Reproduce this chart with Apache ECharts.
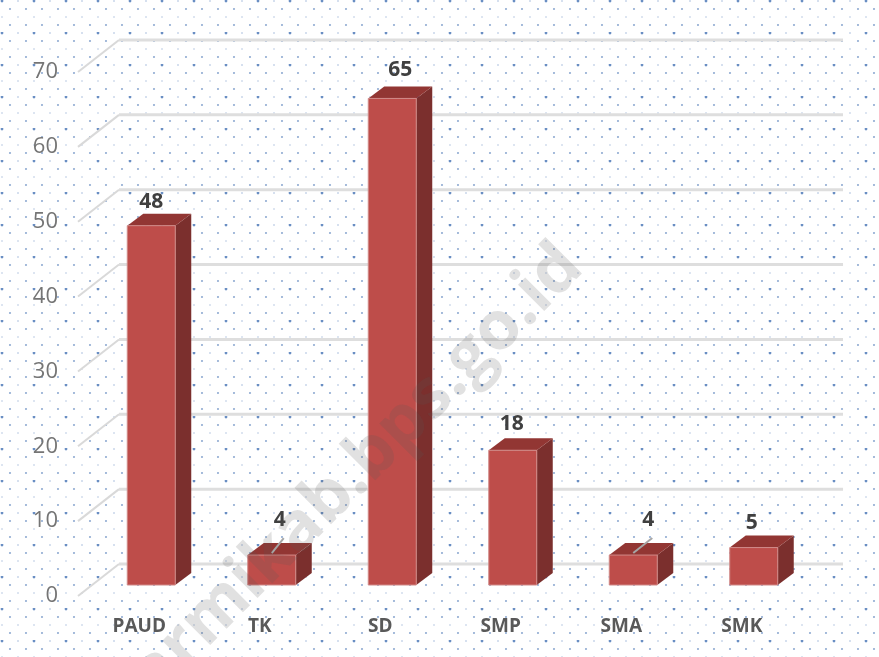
<!DOCTYPE html>
<html>
<head>
<meta charset="utf-8">
<title>Chart</title>
<script src="https://cdn.jsdelivr.net/npm/echarts@6/dist/echarts.min.js"></script>
<style>
  html, body { margin: 0; padding: 0; background: #fff; }
  #box { width: 879px; height: 657px; }
</style>
</head>
<body>
<div id="box"></div>
<script>
var categories = ['PAUD', 'TK', 'SD', 'SMP', 'SMA', 'SMK'];
var values = [48, 4, 65, 18, 4, 5];
var yTicks = [0, 10, 20, 30, 40, 50, 60, 70];

// label nudges, the original has hand-moved data labels
var labelDx = [0, 8, 8, -1, 15, -2];
var labelDy = [24, 35, 28, 26, 35, 25];
var leader = [false, true, false, false, true, false];

var fontName = '"Open Sans", "Noto Sans", sans-serif';

// dotted paper background, tile of 32 x 32
function dotTile() {
  var c = document.createElement('canvas');
  c.width = 32;
  c.height = 32;
  var ctx = c.getContext('2d');
  ctx.fillStyle = '#ffffff';
  ctx.fillRect(0, 0, 32, 32);
  function dot(x, y, r, a) {
    ctx.fillStyle = 'rgba(68,114,180,' + a + ')';
    ctx.beginPath();
    ctx.arc(x, y, r, 0, Math.PI * 2);
    ctx.fill();
  }
  dot(10, 9, 1.05, 0.6);
  dot(26, 9, 1.05, 0.6);
  dot(2, 17, 0.7, 0.5);
  dot(18, 17, 0.7, 0.5);
  dot(10, 25, 1.05, 0.6);
  dot(26, 25, 1.05, 0.6);
  dot(2, 1, 1.4, 0.8);
  dot(18, 1, 0.7, 0.6);
  return c;
}

var chart = echarts.init(document.getElementById('box'));

// back wall and side wall lines
function renderWall(params, api) {
  var p = api.coord([0, api.value(0)]);
  var sys = params.coordSys;
  var left = sys.x;
  var right = sys.x + sys.width;
  return {
    type: 'group',
    children: [{
      type: 'polyline',
      shape: { points: [[left - 1, p[1]], [left + 40, p[1] - 32]] },
      style: { fill: null, stroke: '#d9d9d9', lineWidth: 2 }
    }, {
      type: 'polyline',
      shape: { points: [[left + 40, p[1] - 32], [right + 41, p[1] - 32]] },
      style: { fill: null, stroke: '#dedede', lineWidth: 3 }
    }]
  };
}

function renderBar(params, api) {
  var i = api.value(0);
  var top = api.coord([i, api.value(1)]);
  var base = api.coord([i, 0]);
  var w = 48;
  var x0 = top[0] + 12 - w / 2;
  var x1 = x0 + w;
  var yt = top[1] - 11;
  var yb = base[1] - 11;
  var dx = 16;
  var dy = 12;
  var kids = [{
    type: 'polygon',
    shape: { points: [[x1, yt], [x1 + dx, yt - dy], [x1 + dx, yb - dy], [x1, yb]] },
    style: { fill: '#7b2f2d' }
  }, {
    type: 'polygon',
    shape: { points: [[x0, yt], [x0 + dx, yt - dy], [x1 + dx, yt - dy], [x1, yt]] },
    style: { fill: '#923633' }
  }, {
    type: 'rect',
    shape: { x: x0, y: yt, width: w, height: yb - yt },
    style: { fill: '#be4d4a', stroke: '#d08a88', lineWidth: 1 }
  }];
  var cx = x0 + w / 2;
  if (leader[i]) {
    kids.push({
      type: 'line',
      shape: { x1: cx, y1: yt - 2, x2: cx + labelDx[i] + 4, y2: yt - 17 },
      style: { stroke: '#a6a6a6', lineWidth: 2 }
    });
  }
  kids.push({
    type: 'text',
    style: {
      text: String(api.value(1)),
      x: cx + labelDx[i],
      y: yt - labelDy[i],
      align: 'center',
      verticalAlign: 'middle',
      fill: '#404040',
      font: 'bold 21px ' + fontName
    }
  });
  return { type: 'group', children: kids };
}

var option = {
  backgroundColor: { image: dotTile(), repeat: 'repeat' },
  animation: false,
  grid: { left: 79, right: 77, top: 72, bottom: 61 },
  xAxis: {
    type: 'category',
    data: categories,
    axisLine: { show: false },
    axisTick: { show: false },
    axisLabel: {
      margin: 21,
      color: '#595959',
      fontFamily: fontName,
      fontWeight: 'bold',
      fontSize: 19
    }
  },
  yAxis: {
    type: 'value',
    min: 0,
    max: 70,
    interval: 10,
    axisLine: { show: false },
    axisTick: { show: false },
    splitLine: { show: false },
    axisLabel: {
      margin: 21,
      color: '#757575',
      fontFamily: fontName,
      fontSize: 22
    }
  },
  series: [{
    type: 'custom',
    renderItem: renderWall,
    data: yTicks.map(function(t) { return [t]; }),
    encode: { y: 0 },
    silent: true,
    clip: false,
    z: 1
  }, {
    type: 'custom',
    renderItem: renderBar,
    data: categories.map(function(c, i) { return [i, values[i]]; }),
    encode: { x: 0, y: 1 },
    clip: false,
    z: 2
  }],
  graphic: [{
    type: 'text',
    x: 345,
    y: 483,
    rotation: Math.PI / 4,
    z: 100,
    style: {
      text: 'sarmikab.bps.go.id',
      align: 'center',
      verticalAlign: 'middle',
      fill: 'rgba(90,90,90,0.18)',
      font: 'bold 68px ' + fontName
    }
  }]
};

chart.setOption(option);
</script>
</body>
</html>
